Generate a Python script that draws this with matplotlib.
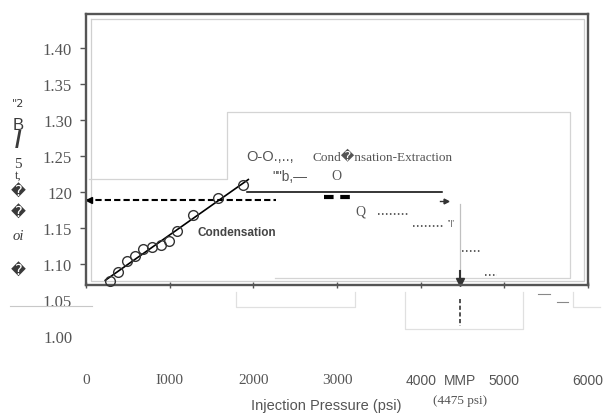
import numpy as np
import matplotlib
matplotlib.use("Agg")
import matplotlib.pyplot as plt
from matplotlib.lines import Line2D

# Data
pressure = [284, 383, 495, 583, 686, 794, 895, 994, 1093, 1278, 1581, 1880]
ratio = [1.0763, 1.0888, 1.1048, 1.1109, 1.1211, 1.1234, 1.1266, 1.1325,
         1.1464, 1.1686, 1.1913, 1.2097]

fit_range = [230, 1940]
plateau_x = [1920, 4251]
plateau_y = 1.200
dashed_x = [0, 2275]
dashed_y = 1.1893
dash_mid_x = [2850, 3186]
dash_mid_y = 1.1927
arrow_right_x = [4230, 4299]
arrow_right_y = 1.188

mmp = 4475
mmp_line = [1.1834, 1.0823]
mmp_below = [1.0518, 1.0144]

dotted_segments = [([3485, 3844], 1.1695), ([3904, 4263], 1.1529),
                   ([4491, 4707], 1.1183), ([4766, 4910], 1.085)]

xticks = [0, 1000, 2000, 3000, 4000, 4475, 5000, 6000]
xtick_labels = ["0", "I000", "2000", "3000", "4000", "MMP", "5000", "6000"]
yticks = [1.00, 1.05, 1.10, 1.15, 1.20, 1.25, 1.30, 1.35, 1.40]
ytick_labels = ["1.00", "1.05", "1.10", "1.15", "120", "1.25", "1.30", "1.35", "1.40"]

xlim = (0, 6000)
ylim = (0.9895, 1.4465)
frame_bottom = 1.0712

gray = "#555555"
dark = "#333333"
serif = "Liberation Serif"
sans = "Liberation Sans"

fig = plt.figure(figsize=(6.03, 4.14), dpi=100)
ax = fig.add_axes([86 / 603, 1 - 345 / 414, 502 / 603, 330 / 414])
ax.set_xlim(*xlim)
ax.set_ylim(*ylim)
ax.patch.set_alpha(0)

# frame
for s in ax.spines.values():
    s.set_color(gray)
    s.set_linewidth(1.7)
ax.spines["bottom"].set_position(("data", frame_bottom))
ax.spines["left"].set_bounds(frame_bottom, ylim[1])
ax.spines["right"].set_bounds(frame_bottom, ylim[1])

# faint inner frame and scan outlines
light = "#cfcfcf"
ax.plot([60, 5952, 5952, 60, 60], [1.4396, 1.4396, 1.0767, 1.0767, 1.4396],
        color=light, lw=0.9)
ax.plot([36, 1689, 1689, 5784, 5784, 2263], [1.218, 1.218, 1.3108, 1.3108, 1.0809, 1.0809],
        color="#d4d4d4", lw=0.9)
for bx, by in [([1796, 1796, 3210, 3210], [1.0615, 1.0407, 1.0407, 1.0615]),
               ([3808, 3808, 5222, 5222], [1.0615, 1.0102, 1.0102, 1.0615]),
               ([5820, 5820, 6144], [1.0615, 1.0407, 1.0407])]:
    ax.plot(bx, by, color="#e0e0e0", lw=0.9, clip_on=False)

# ticks
ax.set_xticks(xticks)
ax.set_xticklabels(xtick_labels)
ax.tick_params(axis="x", direction="inout", length=5, width=1, color=gray,
               pad=61, labelcolor=gray)
for lab, txt in zip(ax.get_xticklabels(), xtick_labels):
    if txt in ("0", "I000", "2000", "3000"):
        lab.set_fontfamily(serif)
        lab.set_fontsize(11)
    else:
        lab.set_fontfamily(sans)
        lab.set_fontsize(10)
for t, v in zip(ax.xaxis.get_major_ticks(), xticks):
    if v == mmp:
        t.tick1line.set_visible(False)

ax.set_yticks(yticks)
ax.set_yticklabels(ytick_labels, fontfamily=serif, fontsize=12)
ax.tick_params(axis="y", direction="out", length=4, width=1, color=gray,
               pad=6, labelcolor=gray)
for t, v in zip(ax.yaxis.get_major_ticks(), yticks):
    if v < frame_bottom:
        t.tick1line.set_visible(False)

ax.set_xlabel("Injection Pressure (psi)", fontfamily=sans, fontsize=10.5, color=gray)
ax.xaxis.set_label_coords(0.478, -0.165)
ax.annotate("(4475 psi)", xy=(mmp, frame_bottom), xytext=(0, -83),
            textcoords="offset points", ha="center", va="center",
            fontfamily=serif, fontsize=9.5, color=gray, annotation_clip=False)

# condensation data and fit
coef = np.polyfit(pressure, ratio, 1)
fx = np.array(fit_range)
ax.plot(fx, np.polyval(coef, fx), color="black", lw=1.2, zorder=3)
ax.plot(pressure, ratio, "o", mfc="none", mec=dark, mew=1.0, ms=7, zorder=4)

# horizontal guide lines
ax.plot(plateau_x, [plateau_y] * 2, color="black", lw=1.1)
ax.plot(dashed_x, [dashed_y] * 2, color="black", lw=1.5, ls=(0, (3, 1.5)))
ax.plot([dashed_x[0] + 40], [dashed_y], marker="<", ms=5, color="black")
ax.plot(dash_mid_x, [dash_mid_y] * 2, color="black", lw=3, ls=(0, (2.3, 1.6)))
ax.plot(arrow_right_x, [arrow_right_y] * 2, color=dark, lw=1)
ax.plot([arrow_right_x[1]], [arrow_right_y], marker=">", ms=3.5, color=dark)

# MMP marker
ax.plot([mmp, mmp], mmp_line, color="#c0c0c0", lw=0.9)
ax.plot([mmp, mmp], [1.0906, 1.0809], color=dark, lw=1.5)
ax.plot([mmp], [1.0747], marker="v", ms=6, color=dark)
ax.plot([mmp, mmp], mmp_below, color=dark, lw=1.2, ls=(0, (2.5, 1.5)), clip_on=False)

# dotted trend remnants
for sx, sy in dotted_segments:
    ax.plot(sx, [sy, sy], color=dark, lw=1.1, ls=(0, (1, 1.6)))
for sx, sy in [([5401, 5545], 1.0587), ([5629, 5760], 1.0476)]:
    ax.plot(sx, [sy, sy], color="#888888", lw=0.8, clip_on=False)

# annotation texts
ax.text(1916, 1.2499, "O-O.,..,", fontfamily=sans, fontsize=10.5, color=gray, va="center")
ax.text(2707, 1.2499, "Cond\ufffdnsation-Extraction", fontfamily=[serif, "DejaVu Sans"],
        fontsize=9.5, color=gray, va="center")
ax.text(2228, 1.2222, '""b,\u2014', fontfamily=sans, fontsize=10, color=gray, va="center")
ax.text(2934, 1.2222, "O", fontfamily=serif, fontsize=10, color=gray, va="center")
ax.text(1329, 1.1446, "Condensation", fontfamily=sans, fontweight="bold",
        fontsize=8.5, color="#444444", va="center")
ax.text(3222, 1.1737, "Q", fontfamily=serif, fontsize=10, color=gray, va="center")
ax.text(4323, 1.1584, "''|'", fontfamily=sans, fontsize=6, color=dark, va="center")

# garbled axis title remnants on the left
left_bits = [('"2', 104, "DejaVu Sans", 8, "normal"), ("B", 125, sans, 12, "normal"),
             ("/", 142, sans, 17, "bold"), ("5", 165, serif, 11, "normal"),
             ("t,", 176, serif, 9, "normal"), ("\ufffd", 191, "DejaVu Sans", 10.5, "normal"),
             ("\ufffd", 212, "DejaVu Sans", 10.5, "normal"), ("oi", 237, serif, 10.5, "italic"),
             ("\ufffd", 270, "DejaVu Sans", 10.5, "normal")]
for txt, py, fam, size, style in left_bits:
    kw = {"fontstyle": "italic"} if style == "italic" else {"fontweight": style}
    fig.text(18 / 603, 1 - py / 414, txt, fontfamily=fam, fontsize=size,
             color="#3a3a3a", ha="center", va="center", **kw)
fig.add_artist(Line2D([10 / 603, 92 / 603], [1 - 307 / 414] * 2, color="#c8c8c8", lw=0.8))

fig.savefig("out.png", dpi=100)
